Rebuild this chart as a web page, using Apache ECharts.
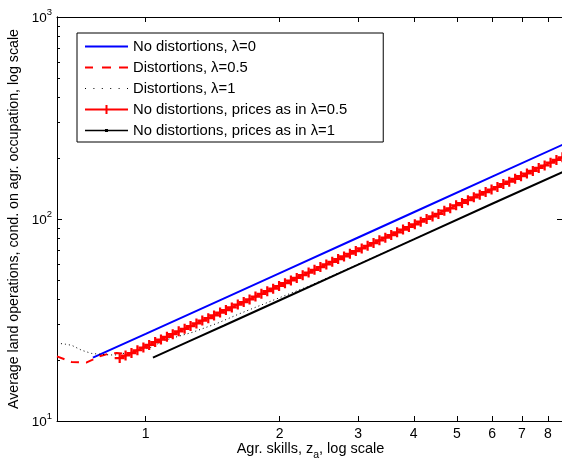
<!DOCTYPE html>
<html>
<head>
<meta charset="utf-8">
<script src="https://cdn.jsdelivr.net/npm/echarts@6/dist/echarts.min.js"></script>
<style>
  html, body { margin: 0; padding: 0; background: #fff; }
  #chart { width: 562px; height: 459px; }
</style>
</head>
<body>
<div id="chart"></div>
<script>
// Agricultural skill grid (z_a) for the "prices as in λ=0.5" run
const skillGrid = [0.874, 0.901, 0.929, 0.958, 0.988, 1.018, 1.050, 1.082, 1.116, 1.150,
  1.186, 1.223, 1.261, 1.300, 1.340, 1.382, 1.424, 1.469, 1.514, 1.561,
  1.610, 1.660, 1.711, 1.764, 1.819, 1.875, 1.933, 1.993, 2.055, 2.119,
  2.184, 2.252, 2.322, 2.394, 2.468, 2.545, 2.624, 2.705, 2.789, 2.875,
  2.964, 3.056, 3.151, 3.249, 3.349, 3.453, 3.560, 3.670, 3.784, 3.901,
  4.022, 4.147, 4.275, 4.408, 4.544, 4.685, 4.830, 4.980, 5.134, 5.293,
  5.457, 5.627, 5.801, 5.981, 6.166, 6.357, 6.554, 6.757, 6.966, 7.182,
  7.405, 7.634, 7.871, 8.115, 8.366, 8.630];
const pricesHalfLand = [20.5, 21.1, 21.7, 22.4, 23.1, 23.8, 24.6, 25.3, 26.1, 26.9,
  27.8, 28.6, 29.5, 30.4, 31.4, 32.3, 33.3, 34.4, 35.4, 36.5,
  37.7, 38.8, 40.0, 41.3, 42.6, 43.9, 45.2, 46.6, 48.1, 49.6,
  51.1, 52.7, 54.3, 56.0, 57.8, 59.6, 61.4, 63.3, 65.3, 67.3,
  69.4, 71.5, 73.7, 76.0, 78.4, 80.8, 83.3, 85.9, 88.6, 91.3,
  94.1, 97.0, 100, 103, 106, 110, 113, 117, 120, 124,
  128, 132, 136, 140, 144, 149, 153, 158, 163, 168,
  173, 179, 184, 190, 196, 202];

// No distortions, λ=0
const noDistSkill = [0.761, 1.0, 1.5, 2.0, 3.0, 4.0, 6.0, 8.70];
const noDistLand  = [20.6, 27.0, 40.5, 54.0, 81.0, 108, 162, 234.9];

// Distortions, λ=0.5
const distHalfSkill = [0.632, 0.658, 0.682, 0.711, 0.737, 0.756, 0.788, 0.830, 0.861, 0.920, 1.0, 2.0, 4.0, 8.70];
const distHalfLand  = [20.9, 20.2, 19.6, 19.5, 19.5, 20.0, 20.9, 21.6, 21.7, 21.5, 23.4, 46.8, 93.6, 203.6];

// Distortions, λ=1
const distOneSkill = [0.632, 0.660, 0.682, 0.718, 0.756, 0.809, 0.852, 0.920, 1.021, 1.103, 1.275, 1.450, 1.626, 1.932, 2.3, 2.8, 3.5, 5.0, 8.70];
const distOneLand  = [24.3, 24.0, 23.7, 22.4, 21.6, 21.3, 21.2, 21.9, 23.0, 25.1, 27.5, 30.5, 34.0, 39.6, 46.1, 55.8, 69.5, 99.0, 171.8];

// No distortions, prices as in λ=1
const pricesOneSkill = [1.038, 1.25, 1.5, 2.0, 3.0, 4.0, 6.0, 8.70];
const pricesOneLand  = [20.6, 24.8, 29.7, 39.6, 59.4, 79.2, 119, 171.8];

// Axis ticks
const xTickValues = [1, 2, 3, 4, 5, 6, 7, 8];
const yMajorTicks = [10, 100, 1000];
const yMinorTicks = [20, 30, 40, 50, 60, 70, 80, 90, 200, 300, 400, 500, 600, 700, 800, 900];

const seriesNames = [
  'No distortions, λ=0',
  'Distortions, λ=0.5',
  'Distortions, λ=1',
  'No distortions, prices as in λ=0.5',
  'No distortions, prices as in λ=1'
];

// Legend glyphs drawn in a 43 x 14 box
const legendIcons = [
  'path://M0,6L43,6L43,8L0,8Z',
  'path://M0,6L8,6L8,8L0,8Z M17,6L26,6L26,8L17,8Z M34,6L43,6L43,8L34,8Z',
  'path://M0,6.5h1v1h-1Z M8.4,6.5h1v1h-1Z M16.8,6.5h1v1h-1Z M25.2,6.5h1v1h-1Z M33.6,6.5h1v1h-1Z M42,6.5h1v1h-1Z',
  'path://M0,6L20.5,6L20.5,2.5L22.5,2.5L22.5,6L43,6L43,8L22.5,8L22.5,11.5L20.5,11.5L20.5,8L0,8Z',
  'path://M0,6.2L20,6.2L20,5.5L23,5.5L23,6.2L43,6.2L43,7.8L23,7.8L23,8.5L20,8.5L20,7.8L0,7.8Z'
];

const FONT = '"Liberation Sans", Arial, Helvetica, sans-serif';
const zip = (xs, ys) => xs.map((x, i) => [x, ys[i]]);
const plusPath = 'path://M-1.1,-5L1.1,-5L1.1,-1.1L5,-1.1L5,1.1L1.1,1.1L1.1,5L-1.1,5L-1.1,1.1L-5,1.1L-5,-1.1L-1.1,-1.1Z';

const X_MIN = 0.632, X_MAX = 8.70;

function xAxisDef(pos, showLabels) {
  return {
    type: 'log', logBase: 10, min: X_MIN, max: X_MAX, position: pos,
    axisLine: { show: true, onZero: false, lineStyle: { color: '#000', width: 1 } },
    axisTick: { show: true, inside: true, length: 5, customValues: xTickValues, lineStyle: { color: '#000', width: 1 } },
    axisLabel: {
      show: showLabels, customValues: xTickValues, margin: 6,
      fontFamily: FONT, fontSize: 14, color: '#000',
      formatter: v => String(Math.round(v))
    },
    splitLine: { show: false }, minorTick: { show: false }
  };
}

function yAxisDef(pos, ticks, len, showLabels) {
  return {
    type: 'log', logBase: 10, min: 10, max: 1000, position: pos,
    axisLine: { show: true, onZero: false, lineStyle: { color: '#000', width: 1 } },
    axisTick: { show: true, inside: true, length: len, customValues: ticks, lineStyle: { color: '#000', width: 1 } },
    axisLabel: {
      show: showLabels, customValues: ticks, margin: 5, padding: [3, 0, 0, 0],
      formatter: v => '{b|10}{s|' + Math.round(Math.log10(v)) + '}',
      rich: {
        b: { fontFamily: FONT, fontSize: 13.5, color: '#000', lineHeight: 22 },
        s: { fontFamily: FONT, fontSize: 9.5, color: '#000', lineHeight: 12, verticalAlign: 'top' }
      }
    },
    splitLine: { show: false }, minorTick: { show: false }
  };
}

const xName = '{n|Agr. skills, z}{sub|a}{n|, log scale}';

const chart = echarts.init(document.getElementById('chart'), null, { renderer: 'canvas' });
const xMain = xAxisDef('bottom', true);
xMain.name = xName;
xMain.nameLocation = 'middle';
xMain.nameGap = 20;
xMain.nameMoveOverlap = false;
xMain.nameTextStyle = {
  rich: {
    n: { fontFamily: FONT, fontSize: 14.5, color: '#000', lineHeight: 16, verticalAlign: 'top' },
    sub: { fontFamily: FONT, fontSize: 10.5, color: '#000', lineHeight: 20, verticalAlign: 'bottom' }
  }
};
const yMain = yAxisDef('left', yMajorTicks, 5, true);
yMain.name = 'Average land operations, cond. on agr. occupation, log scale';
yMain.nameLocation = 'middle';
yMain.nameGap = 32;
yMain.nameTextStyle = { fontFamily: FONT, fontSize: 14.2, color: '#000' };

chart.setOption({
  animation: false,
  backgroundColor: '#fff',
  grid: { left: 57, right: -2, top: 17, bottom: 38, containLabel: false, outerBoundsMode: 'none' },
  xAxis: [xMain, xAxisDef('top', false)],
  yAxis: [
    yMain,
    yAxisDef('left', yMinorTicks, 3, false),
    yAxisDef('right', yMajorTicks, 7, false)
  ],
  legend: {
    orient: 'vertical', left: 77, top: 33,
    itemWidth: 43, itemHeight: 14, itemGap: 6,
    padding: [6, 36, 4, 8],
    borderColor: '#000', borderWidth: 1, backgroundColor: '#fff',
    textStyle: { fontFamily: FONT, fontSize: 14.8, lineHeight: 14, color: '#000' },
    data: seriesNames.map((n, i) => ({ name: n, icon: legendIcons[i] }))
  },
  series: [
    {
      name: seriesNames[0], type: 'line', data: zip(noDistSkill, noDistLand),
      symbol: 'none', lineStyle: { color: '#0000ff', width: 2 }, itemStyle: { color: '#0000ff' }
    },
    {
      name: seriesNames[1], type: 'line', data: zip(distHalfSkill, distHalfLand),
      symbol: 'none', lineStyle: { color: '#ff0000', width: 2, type: [8, 7] }, itemStyle: { color: '#ff0000' }
    },
    {
      name: seriesNames[2], type: 'line', data: zip(distOneSkill, distOneLand),
      symbol: 'none', lineStyle: { color: '#000', width: 1, type: [1, 3] }, itemStyle: { color: '#000' }
    },
    {
      name: seriesNames[3], type: 'line', data: zip(skillGrid, pricesHalfLand),
      symbol: plusPath, symbolSize: 10, showSymbol: true,
      lineStyle: { color: '#ff0000', width: 2 }, itemStyle: { color: '#ff0000' }
    },
    {
      name: seriesNames[4], type: 'line', data: zip(pricesOneSkill, pricesOneLand),
      symbol: 'none',
      lineStyle: { color: '#000', width: 2 }, itemStyle: { color: '#000' }
    }
  ]
});
</script>
</body>
</html>
